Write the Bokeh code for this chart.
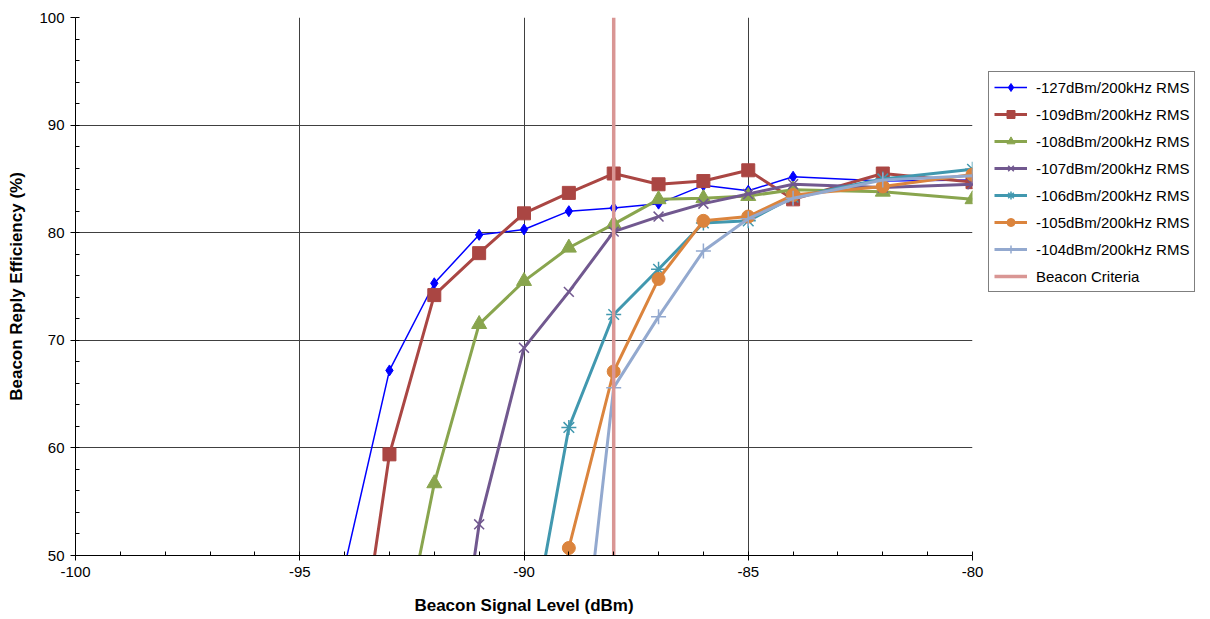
from bokeh.plotting import figure
from bokeh.models import Range1d, FixedTicker, Legend, LegendItem
from bokeh.embed import file_html
from bokeh.resources import INLINE

# Data
x_127 = [-94, -93, -92, -91, -90, -89, -88, -87, -86, -85, -84, -82, -80]
y_127 = [49.0, 67.2, 75.3, 79.8, 80.3, 82.0, 82.3, 82.7, 84.4, 83.9, 85.2, 84.8, 84.9]

x_109 = [-94, -93, -92, -91, -90, -89, -88, -87, -86, -85, -84, -82, -80]
y_109 = [31.0, 59.4, 74.2, 78.1, 81.8, 83.7, 85.5, 84.5, 84.8, 85.8, 83.1, 85.5, 84.7]

x_108 = [-93, -92, -91, -90, -89, -88, -87, -86, -85, -84, -82, -80]
y_108 = [36.0, 56.7, 71.5, 75.5, 78.6, 80.8, 83.1, 83.2, 83.4, 84.0, 83.8, 83.1]

x_107 = [-92, -91, -90, -89, -88, -87, -86, -85, -84, -82, -80]
y_107 = [24.0, 52.9, 69.3, 74.5, 80.1, 81.5, 82.7, 83.6, 84.5, 84.2, 84.5]

x_106 = [-90, -89, -88, -87, -86, -85, -84, -82, -80]
y_106 = [39.0, 61.9, 72.4, 76.6, 80.9, 81.1, 83.3, 85.0, 85.9]

x_105 = [-90, -89, -88, -87, -86, -85, -84, -82, -80]
y_105 = [20.0, 50.7, 67.1, 75.7, 81.1, 81.5, 83.5, 84.3, 85.4]

x_104 = [-89, -88, -87, -86, -85, -84, -82, -80]
y_104 = [28.6, 65.6, 72.2, 78.3, 81.3, 83.2, 84.9, 85.3]

criteria_x = [-88, -88]
criteria_y = [50, 100]

labels = ["-127dBm/200kHz RMS", "-109dBm/200kHz RMS", "-108dBm/200kHz RMS",
          "-107dBm/200kHz RMS", "-106dBm/200kHz RMS", "-105dBm/200kHz RMS",
          "-104dBm/200kHz RMS", "Beacon Criteria"]

x_ticks = [-100, -95, -90, -85, -80]
y_ticks = [50, 60, 70, 80, 90, 100]

FONT = "Liberation Sans"

p = figure(frame_width=897, frame_height=538, output_backend="svg", toolbar_location=None,
           x_range=Range1d(-100, -80), y_range=Range1d(50, 100),
           min_border_left=75, min_border_right=0, min_border_top=17, min_border_bottom=64)
p.outline_line_color = None
p.background_fill_color = "white"
p.border_fill_color = "white"

series = [
    (x_127, y_127, "#0000FF", 1.5, "diamond", 11),
    (x_109, y_109, "#AA4643", 3, "square", 13),
    (x_108, y_108, "#89A54E", 3, "triangle", 15),
    (x_107, y_107, "#71588F", 3, "x", 14),
    (x_106, y_106, "#4198AF", 3, "asterisk", 15),
    (x_105, y_105, "#DB843D", 3, "circle", 13),
    (x_104, y_104, "#93A9CF", 3, "cross", 15),
]

items = []
for (xs, ys, c, lw, m, s), lab in zip(series, labels):
    r1 = p.line(xs, ys, line_color=c, line_width=lw)
    if m in ("x", "asterisk", "cross"):
        r2 = p.scatter(xs, ys, marker=m, size=s, line_color=c, line_width=1.5)
    else:
        r2 = p.scatter(xs, ys, marker=m, size=s, fill_color=c, line_color=c)
    items.append(LegendItem(label=lab, renderers=[r1, r2]))

rc = p.line(criteria_x, criteria_y, line_color="#D99694", line_width=3.5)
items.append(LegendItem(label=labels[-1], renderers=[rc]))

legend = Legend(items=items, location=(16, 263))
legend.label_text_font = FONT
legend.label_text_font_size = "15px"
legend.label_text_color = "black"
legend.border_line_color = "black"
legend.border_line_width = 1
legend.spacing = 7
legend.glyph_height = 20
legend.glyph_width = 33
legend.label_height = 20
legend.label_standoff = 9
legend.padding = 5
legend.margin = 0
legend.background_fill_alpha = 1
p.add_layout(legend, "right")

for ax in (p.xaxis, p.yaxis):
    ax.major_label_text_font = FONT
    ax.major_label_text_font_size = "15px"
    ax.major_label_text_color = "black"
    ax.axis_label_text_font = FONT
    ax.axis_label_text_font_size = "17px"
    ax.axis_label_text_font_style = "bold"
    ax.axis_label_text_color = "black"
    ax.axis_line_color = "black"
    ax.major_tick_line_color = "black"
    ax.minor_tick_line_color = "black"
    ax.major_tick_out = 5
    ax.major_tick_in = 0
    ax.minor_tick_out = 0
    ax.minor_tick_in = 4

p.xaxis.ticker = FixedTicker(ticks=x_ticks, minor_ticks=list(range(-100, -79)))
p.yaxis.ticker = FixedTicker(ticks=y_ticks, minor_ticks=list(range(50, 101, 2)))
p.xaxis.major_label_overrides = {t: str(t) for t in x_ticks}
p.xaxis.axis_label = "Beacon Signal Level (dBm)"
p.yaxis.axis_label = "Beacon Reply Efficiency (%)"
p.xaxis.major_label_standoff = 6
p.yaxis.major_label_standoff = 6
p.xaxis.axis_label_standoff = 16
p.yaxis.axis_label_standoff = 10

p.xgrid.grid_line_color = "#404040"
p.ygrid.grid_line_color = "#404040"
p.xgrid.ticker = FixedTicker(ticks=x_ticks)
p.ygrid.ticker = FixedTicker(ticks=y_ticks)

open("out.html", "w").write(file_html(p, INLINE))
